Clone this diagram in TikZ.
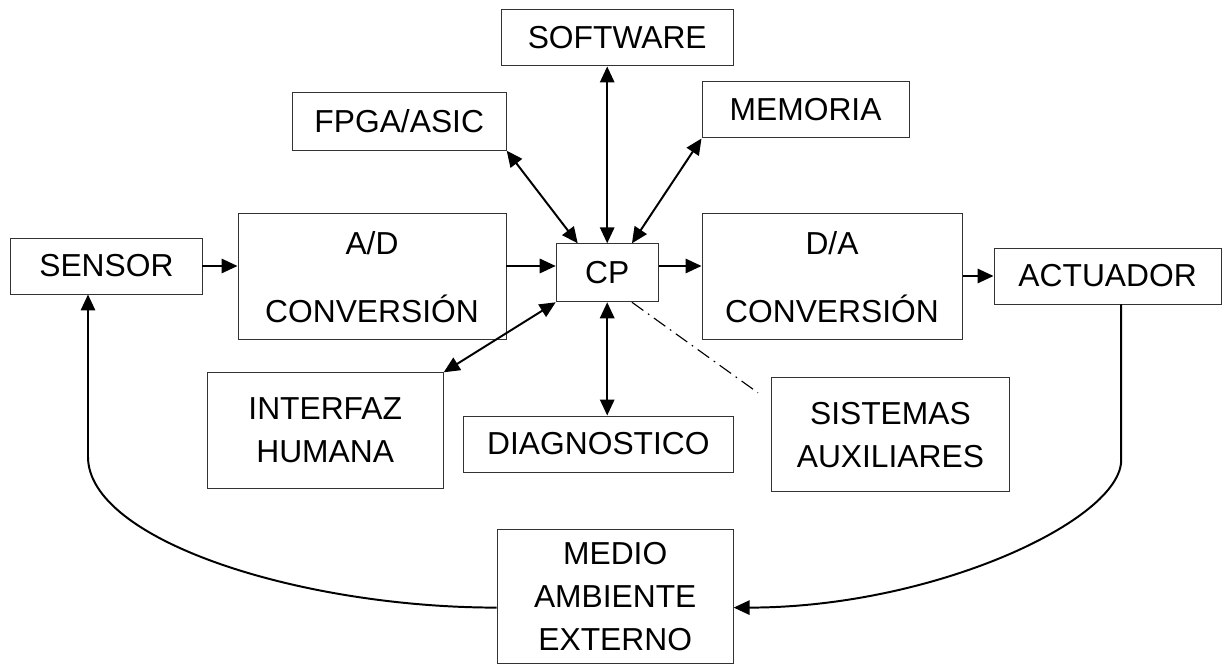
\documentclass[tikz,border=0pt]{standalone}
\usepackage{fontspec}
\setmainfont{Liberation Sans}
\usetikzlibrary{arrows.meta}

\begin{document}
\begin{tikzpicture}[
	block/.style={draw=black!80, rectangle, line width=0.7pt, text centered, align=center,
		inner sep=0pt, font=\fontsize{22.6}{30.5}\selectfont},
	link/.style={line width=1.4pt, -{Triangle[length=0.4cm,width=0.36cm]}},
	dlink/.style={line width=1.4pt, {Triangle[length=0.4cm,width=0.36cm]}-{Triangle[length=0.4cm,width=0.36cm]}},
	]
	
	\useasboundingbox (0,0) rectangle (30.6,16.6);
	
	%Blocks of the scheme
	\node (software) at (15.43,15.65) [block, minimum width=5.8cm, minimum height=1.4cm]{SOFTWARE};
	\node (fpga) at (9.98,13.56) [block, minimum width=5.35cm, minimum height=1.43cm]{FPGA/ASIC};
	\node (memoria) at (20.14,13.85) [block, minimum width=5.18cm, minimum height=1.4cm]{MEMORIA};
	\node (sensor) at (2.66,9.95) [block, minimum width=4.78cm, minimum height=1.4cm]{SENSOR};
	\node (ad) at (9.3,9.68) [block, minimum width=6.7cm, minimum height=3.15cm]{A/D\\[18pt]CONVERSIÓN};
	\node (cp) at (15.18,9.78) [block, minimum width=2.55cm, minimum height=1.45cm]{CP};
	\node (da) at (20.8,9.68) [block, minimum width=6.5cm, minimum height=3.15cm]{D/A\\[18pt]CONVERSIÓN};
	\node (actuador) at (27.69,9.7) [block, minimum width=5.68cm, minimum height=1.4cm]{ACTUADOR};
	\node (interfaz) at (8.13,5.84) [block, minimum width=5.9cm, minimum height=2.88cm]{INTERFAZ\\HUMANA};
	\node (diagnostico) at (14.96,5.5) [block, minimum width=6.73cm, minimum height=1.4cm]{DIAGNOSTICO};
	\node (sistemas) at (22.26,5.73) [block, minimum width=5.93cm, minimum height=2.85cm]{SISTEMAS\\AUXILIARES};
	\node (medio) at (15.38,1.69) [block, minimum width=5.9cm, minimum height=3.33cm]{MEDIO\\AMBIENTE\\EXTERNO};
	
	%Corners of the loop
	\coordinate (sensorFoot) at (2.2,5.18);
	\coordinate (actuadorFoot) at (28.03,5.1);
	\coordinate (auxEnd) at (18.95,6.78);
	
	%Linx
	\draw[link] (sensor.east) -- (ad.west |- sensor.east);
	\draw[link] (ad.east |- sensor.east) -- (cp.west |- sensor.east);
	\draw[link] (cp.east |- sensor.east) -- (da.west |- sensor.east);
	\draw[link] (da.east |- actuador.west) -- (actuador.west);
	\draw[dlink] (cp.north) -- (cp.north |- software.south);
	\draw[dlink] (fpga.south east) -- (cp.135);
	\draw[dlink] (memoria.south west) -- (cp.50);
	\draw[dlink] (interfaz.north east) -- (cp.south west);
	\draw[dlink] (cp.south) -- (cp.south |- diagnostico.north);
	\draw[line width=0.8pt, dash pattern=on 10pt off 4pt on 1.2pt off 4pt] (cp.-50) -- (auxEnd);
	
	%Loop through the environment
	\draw[link] (actuadorFoot |- actuador.south) -- (actuadorFoot)
		.. controls +(0,-1.5) and +(5,0) .. ([yshift=-0.28cm]medio.east);
	\draw[link] ([yshift=-0.28cm]medio.west) .. controls +(-4.93,0) and +(0,-2.08) .. (sensorFoot)
		-- (sensorFoot |- sensor.south);
	
\end{tikzpicture}
\end{document}
